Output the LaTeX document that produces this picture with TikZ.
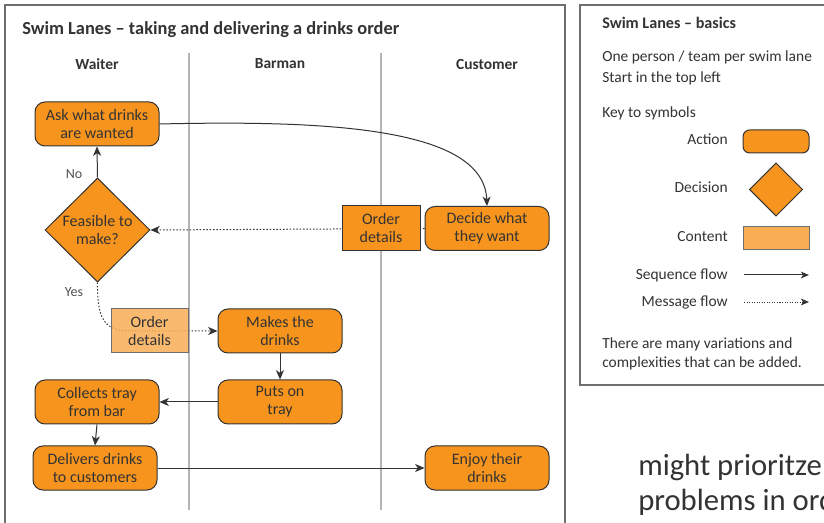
\documentclass[tikz,border=0pt]{standalone}
\usepackage{fontspec}
\setmainfont{Carlito}
\usetikzlibrary{shapes.geometric,arrows.meta}

\definecolor{actfill}{HTML}{F7941D}
\definecolor{contfill}{HTML}{F9AD55}
\definecolor{ink}{HTML}{333333}
\definecolor{framegray}{HTML}{6E6E6E}
\definecolor{lanegray}{HTML}{B4B4B4}

\tikzset{
  boxtext/.style={font=\fontsize{12}{13.5}\selectfont, align=center, text=ink},
  action/.style={boxtext, draw=ink, line width=0.75pt, fill=actfill,
    rounded corners=7.5pt, minimum width=93pt, minimum height=33pt, inner sep=0pt},
  content/.style={boxtext, draw=ink, line width=0.75pt, fill=actfill,
    minimum width=58.5pt, minimum height=33.75pt, inner sep=0pt},
  lightcontent/.style={boxtext, draw=framegray, line width=0.75pt, fill=contfill,
    fill opacity=0.85, text opacity=1, minimum width=57.75pt, minimum height=33pt, inner sep=0pt},
  decision/.style={boxtext, draw=ink, line width=0.75pt, fill=actfill, diamond,
    aspect=1, inner sep=0pt, minimum width=78.75pt, minimum height=78pt},
  seqflow/.style={draw=ink, line width=0.75pt, -{Stealth[length=7pt,width=6pt,inset=2pt]}},
  msgflow/.style={draw=ink, line width=0.75pt, dash pattern=on 1.1pt off 1.4pt,
    -{Stealth[length=7pt,width=6pt,inset=2pt]}},
  lanehead/.style={font=\bfseries\fontsize{11.6}{13}\selectfont, text=ink},
  branch/.style={font=\fontsize{10.5}{12}\selectfont, text=ink!85},
  keytext/.style={font=\fontsize{11.6}{14}\selectfont, text=ink, inner sep=0pt},
  panel/.style={draw=framegray, line width=1.1pt},
}

\begin{document}
\begin{tikzpicture}[x=0.75pt,y=-0.75pt]
  \useasboundingbox (0,0) rectangle (824,523);
  \clip (0,0) rectangle (824,523);
  \fill[white] (0,0) rectangle (824,523);

  % ---------- swim lane panel ----------
  \draw[panel] (5,540) -- (5,5) -- (565,5) -- (565,540);
  \node[anchor=base west, inner sep=0pt, font=\bfseries\fontsize{13.8}{15}\selectfont, text=ink]
    (title) at (22,35) {Swim Lanes -- taking and delivering a drinks order};

  \node[lanehead] (hwaiter) at (97,64) {Waiter};
  \node[lanehead] (hbarman) at (280,64) {Barman};
  \node[lanehead] (hcustomer) at (487,64) {Customer};

  \coordinate (laneAtop) at (189,53);
  \coordinate (laneAbot) at (189,510);
  \coordinate (laneBtop) at (381,53);
  \coordinate (laneBbot) at (381,510);
  \draw[lanegray, line width=0.9pt] (laneAtop) -- (laneAbot);
  \draw[lanegray, line width=0.9pt] (laneBtop) -- (laneBbot);

  % message flow drawn first so the content boxes sit over it
  \node[decision] (feas) at (97.5,230) {Feasible to\\make?};
  \node[action] (decide) at (487,228.5) {Decide what\\they want};
  \node[action] (makes) at (280,331) {Makes the\\drinks};
  \coordinate (bend) at (130,331);

  \draw[msgflow] (decide.west) -- (feas.east);
  \draw[msgflow] (feas.south) .. controls (97,320) and (105,331) .. (bend) -- (makes.west);

  \node[content] (order1) at (381,228.5) {Order\\details};
  \node[lightcontent] (order2) at (149.5,331) {Order\\details};

  \node[action] (ask) at (97,124) {Ask what drinks\\are wanted};
  \node[action] (puts) at (280,402) {Puts on\\tray};
  \node[action] (collect) at (97,402) {Collects tray\\from bar};
  \node[action] (deliver) at (95,468) {Delivers drinks\\to customers};
  \node[action] (enjoy) at (487,468) {Enjoy their\\drinks};

  \draw[seqflow] (feas.north) -- (ask.south);
  \draw[seqflow] (ask.east) .. controls (330,120) and (484,128) .. (decide.north);
  \draw[seqflow] (makes.south) -- (puts.north);
  \draw[seqflow] (puts.west) -- (collect.east);
  \draw[seqflow] (collect.south) -- (deliver.north);
  \draw[seqflow] (deliver.east) -- (enjoy.west);

  \node[branch] (no) at (74,174) {No};
  \node[branch] (yes) at (74,292) {Yes};

  % ---------- basics panel ----------
  \draw[panel] (840,5) -- (580,5) -- (580,385) -- (840,385);
  \node[anchor=base west, inner sep=0pt, font=\bfseries\fontsize{12.1}{14}\selectfont, text=ink]
    (btitle) at (602,29) {Swim Lanes -- basics};
  \node[keytext, anchor=base west] (line1) at (602,62) {One person / team per swim lane};
  \node[keytext, anchor=base west] (line2) at (602,83) {Start in the top left};
  \node[keytext, anchor=base west] (line3) at (602,118) {Key to symbols};

  \node[keytext, anchor=base east] (kaction) at (728,145) {Action};
  \node[keytext, anchor=base east] (kdecision) at (728,193) {Decision};
  \node[keytext, anchor=base east] (kcontent) at (728,242) {Content};
  \node[keytext, anchor=base east] (kseq) at (728,280) {Sequence flow};
  \node[keytext, anchor=base east] (kmsg) at (728,307) {Message flow};

  \node[draw=ink, line width=0.75pt, fill=actfill, rounded corners=5pt,
    minimum width=49.5pt, minimum height=17.25pt, inner sep=0pt] (saction) at (776,141.5) {};
  \node[draw=ink, line width=0.75pt, fill=actfill, diamond, aspect=1, inner sep=0pt,
    minimum width=40pt, minimum height=40pt] (sdecision) at (776,189.5) {};
  \node[draw=framegray, line width=0.75pt, fill=contfill,
    minimum width=49.5pt, minimum height=17.25pt, inner sep=0pt] (scontent) at (776,238.5) {};

  \coordinate (seqA) at (744,275);
  \coordinate (seqB) at (809,275);
  \coordinate (msgA) at (744,302);
  \coordinate (msgB) at (809,302);
  \draw[draw=ink, line width=0.75pt, -{Stealth[length=6pt,width=5pt,inset=1.5pt]}] (seqA) -- (seqB);
  \draw[draw=ink, line width=0.6pt, dash pattern=on 0.8pt off 1.1pt,
    -{Stealth[length=6pt,width=5pt,inset=1.5pt]}] (msgA) -- (msgB);

  \node[keytext, anchor=base west] (note1) at (602,349) {There are many variations and};
  \node[keytext, anchor=base west] (note2) at (602,368) {complexities that can be added.};

  % ---------- running text beside the panel ----------
  \node[anchor=base west, font=\fontsize{23}{26}\selectfont, text=ink, inner sep=0pt]
    (para1) at (638,475) {might prioritze};
  \node[anchor=base west, font=\fontsize{23}{26}\selectfont, text=ink, inner sep=0pt]
    (para2) at (638,510) {problems in ord};
\end{tikzpicture}
\end{document}
